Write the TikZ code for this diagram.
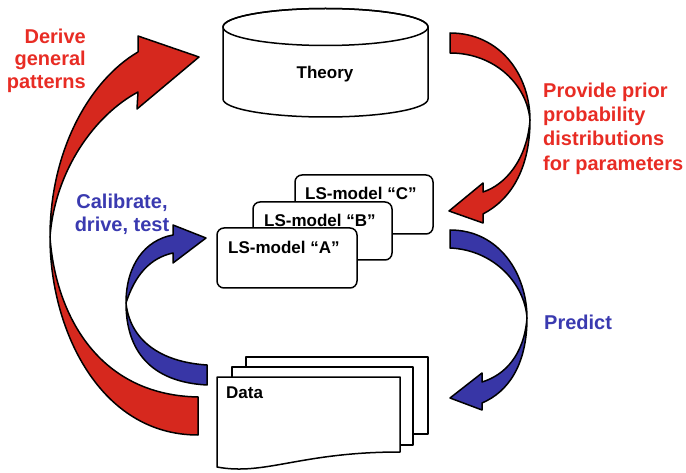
\documentclass[tikz,border=0pt]{standalone}
\usepackage{fontspec}
\setmainfont{Liberation Sans}
\definecolor{arrowred}{RGB}{214,40,30}
\definecolor{textred}{RGB}{232,44,36}
\definecolor{arrowblue}{RGB}{56,54,166}
\definecolor{textblue}{RGB}{58,58,176}
\tikzset{
  outline/.style={draw=black, line width=1.5pt, line join=round},
  redband/.style={outline, fill=arrowred},
  blueband/.style={outline, fill=arrowblue},
  lsbox/.style={outline, fill=white, rounded corners=7pt, inner sep=0pt},
  sheet/.style={outline, fill=white},
  boxtext/.style={inner sep=0pt, font=\bfseries\fontsize{17}{20}\selectfont},
  redlabel/.style={inner sep=0pt, text=textred, font=\bfseries\fontsize{20}{23}\selectfont},
  bluelabel/.style={inner sep=0pt, text=textblue, font=\bfseries\fontsize{20}{23}\selectfont},
}
\begin{document}
\begin{tikzpicture}[x=1pt, y=-1pt]
\useasboundingbox (0,0) rectangle (686,473);

% ---- Theory cylinder (y axis points down, so angle 90 is the lower side) ----
\draw[sheet] (223,27) -- (223,99) arc[start angle=180, end angle=0, x radius=102.5, y radius=18]
  -- (428,27) arc[start angle=0, end angle=-180, x radius=102.5, y radius=18.5] -- cycle;
\draw[outline] (325.5,27) ellipse[x radius=102.5, y radius=18.5];
\node[boxtext, anchor=base] (theory) at (325,79) {Theory};

% ---- stack of LS-models ----
\node[lsbox, minimum width=138pt, minimum height=59pt] (modelC) at (364,204.5) {};
\node[boxtext, anchor=base west] (labelC) at (305,200) {LS-model “C”};
\node[lsbox, minimum width=139pt, minimum height=58pt] (modelB) at (322.5,231) {};
\node[boxtext, anchor=base west] (labelB) at (264,227) {LS-model “B”};
\node[lsbox, minimum width=140pt, minimum height=60pt] (modelA) at (287,258) {};
\node[boxtext, anchor=base west] (labelA) at (228,254) {LS-model “A”};

% ---- stack of data sheets ----
\draw[sheet] (246,357) rectangle (428,434);
\draw[sheet] (232,367) rectangle (413,445);
\draw[sheet] (217,377) -- (400,377) -- (400,452)
  .. controls (300,452) and (265,476) .. (217,467) -- cycle;
\node[boxtext, anchor=base west] (data) at (226,399) {Data};

% ---- Derive general patterns (red, left) ----
\draw[redband] (198,435) .. controls (100,435) and (50,330) .. (50,237)
  .. controls (55,310) and (95,395) .. (198,397) -- cycle;
\draw[redband] (50,237) .. controls (50,150) and (90,80) .. (138,52)
  -- (138,36) -- (199,57) -- (137,109) -- (138,92)
  .. controls (95,115) and (55,170) .. (50,237) -- cycle;

% ---- Calibrate, drive, test (blue, left) ----
\draw[blueband] (207,385) .. controls (150,382) and (126,350) .. (126,303)
  .. controls (130,340) and (160,362) .. (207,365) -- cycle;
\draw[blueband] (126,303) .. controls (126,265) and (145,240) .. (173,235)
  -- (173,225) -- (206,238) -- (173,263) -- (173,253)
  .. controls (150,258) and (135,275) .. (126,303) -- cycle;

% ---- Provide prior ... (red, right) ----
\draw[redband] (450,33) .. controls (500,33) and (530,75) .. (530,120)
  .. controls (527,85) and (495,53) .. (450,53) -- cycle;
\draw[redband] (530,120) .. controls (530,170) and (510,200) .. (483,214)
  -- (483,223) -- (449,211) -- (483,183) -- (483,192)
  .. controls (505,185) and (527,160) .. (530,120) -- cycle;

% ---- Predict (blue, right) ----
\draw[blueband] (450,230) .. controls (500,230) and (527,275) .. (527,318)
  .. controls (525,285) and (495,250) .. (450,248) -- cycle;
\draw[blueband] (527,318) .. controls (527,365) and (508,392) .. (482,403)
  -- (482,410) -- (450,398) -- (482,373) -- (482,382)
  .. controls (505,375) and (524,355) .. (527,318) -- cycle;

% ---- labels ----
\node[redlabel, align=right, anchor=east, font=\bfseries\fontsize{20}{22.5}\selectfont] (derive) at (86,60.5) {Derive\\general\\patterns};
\node[redlabel, align=left, anchor=west, font=\bfseries\fontsize{20}{24.3}\selectfont] (prior) at (543,128.5) {Provide prior\\probability\\distributions\\for parameters};
\node[bluelabel, align=center] (calib) at (122,214) {Calibrate,\\drive, test};
\node[bluelabel, anchor=west] (predict) at (544,322) {Predict};
\end{tikzpicture}
\end{document}
